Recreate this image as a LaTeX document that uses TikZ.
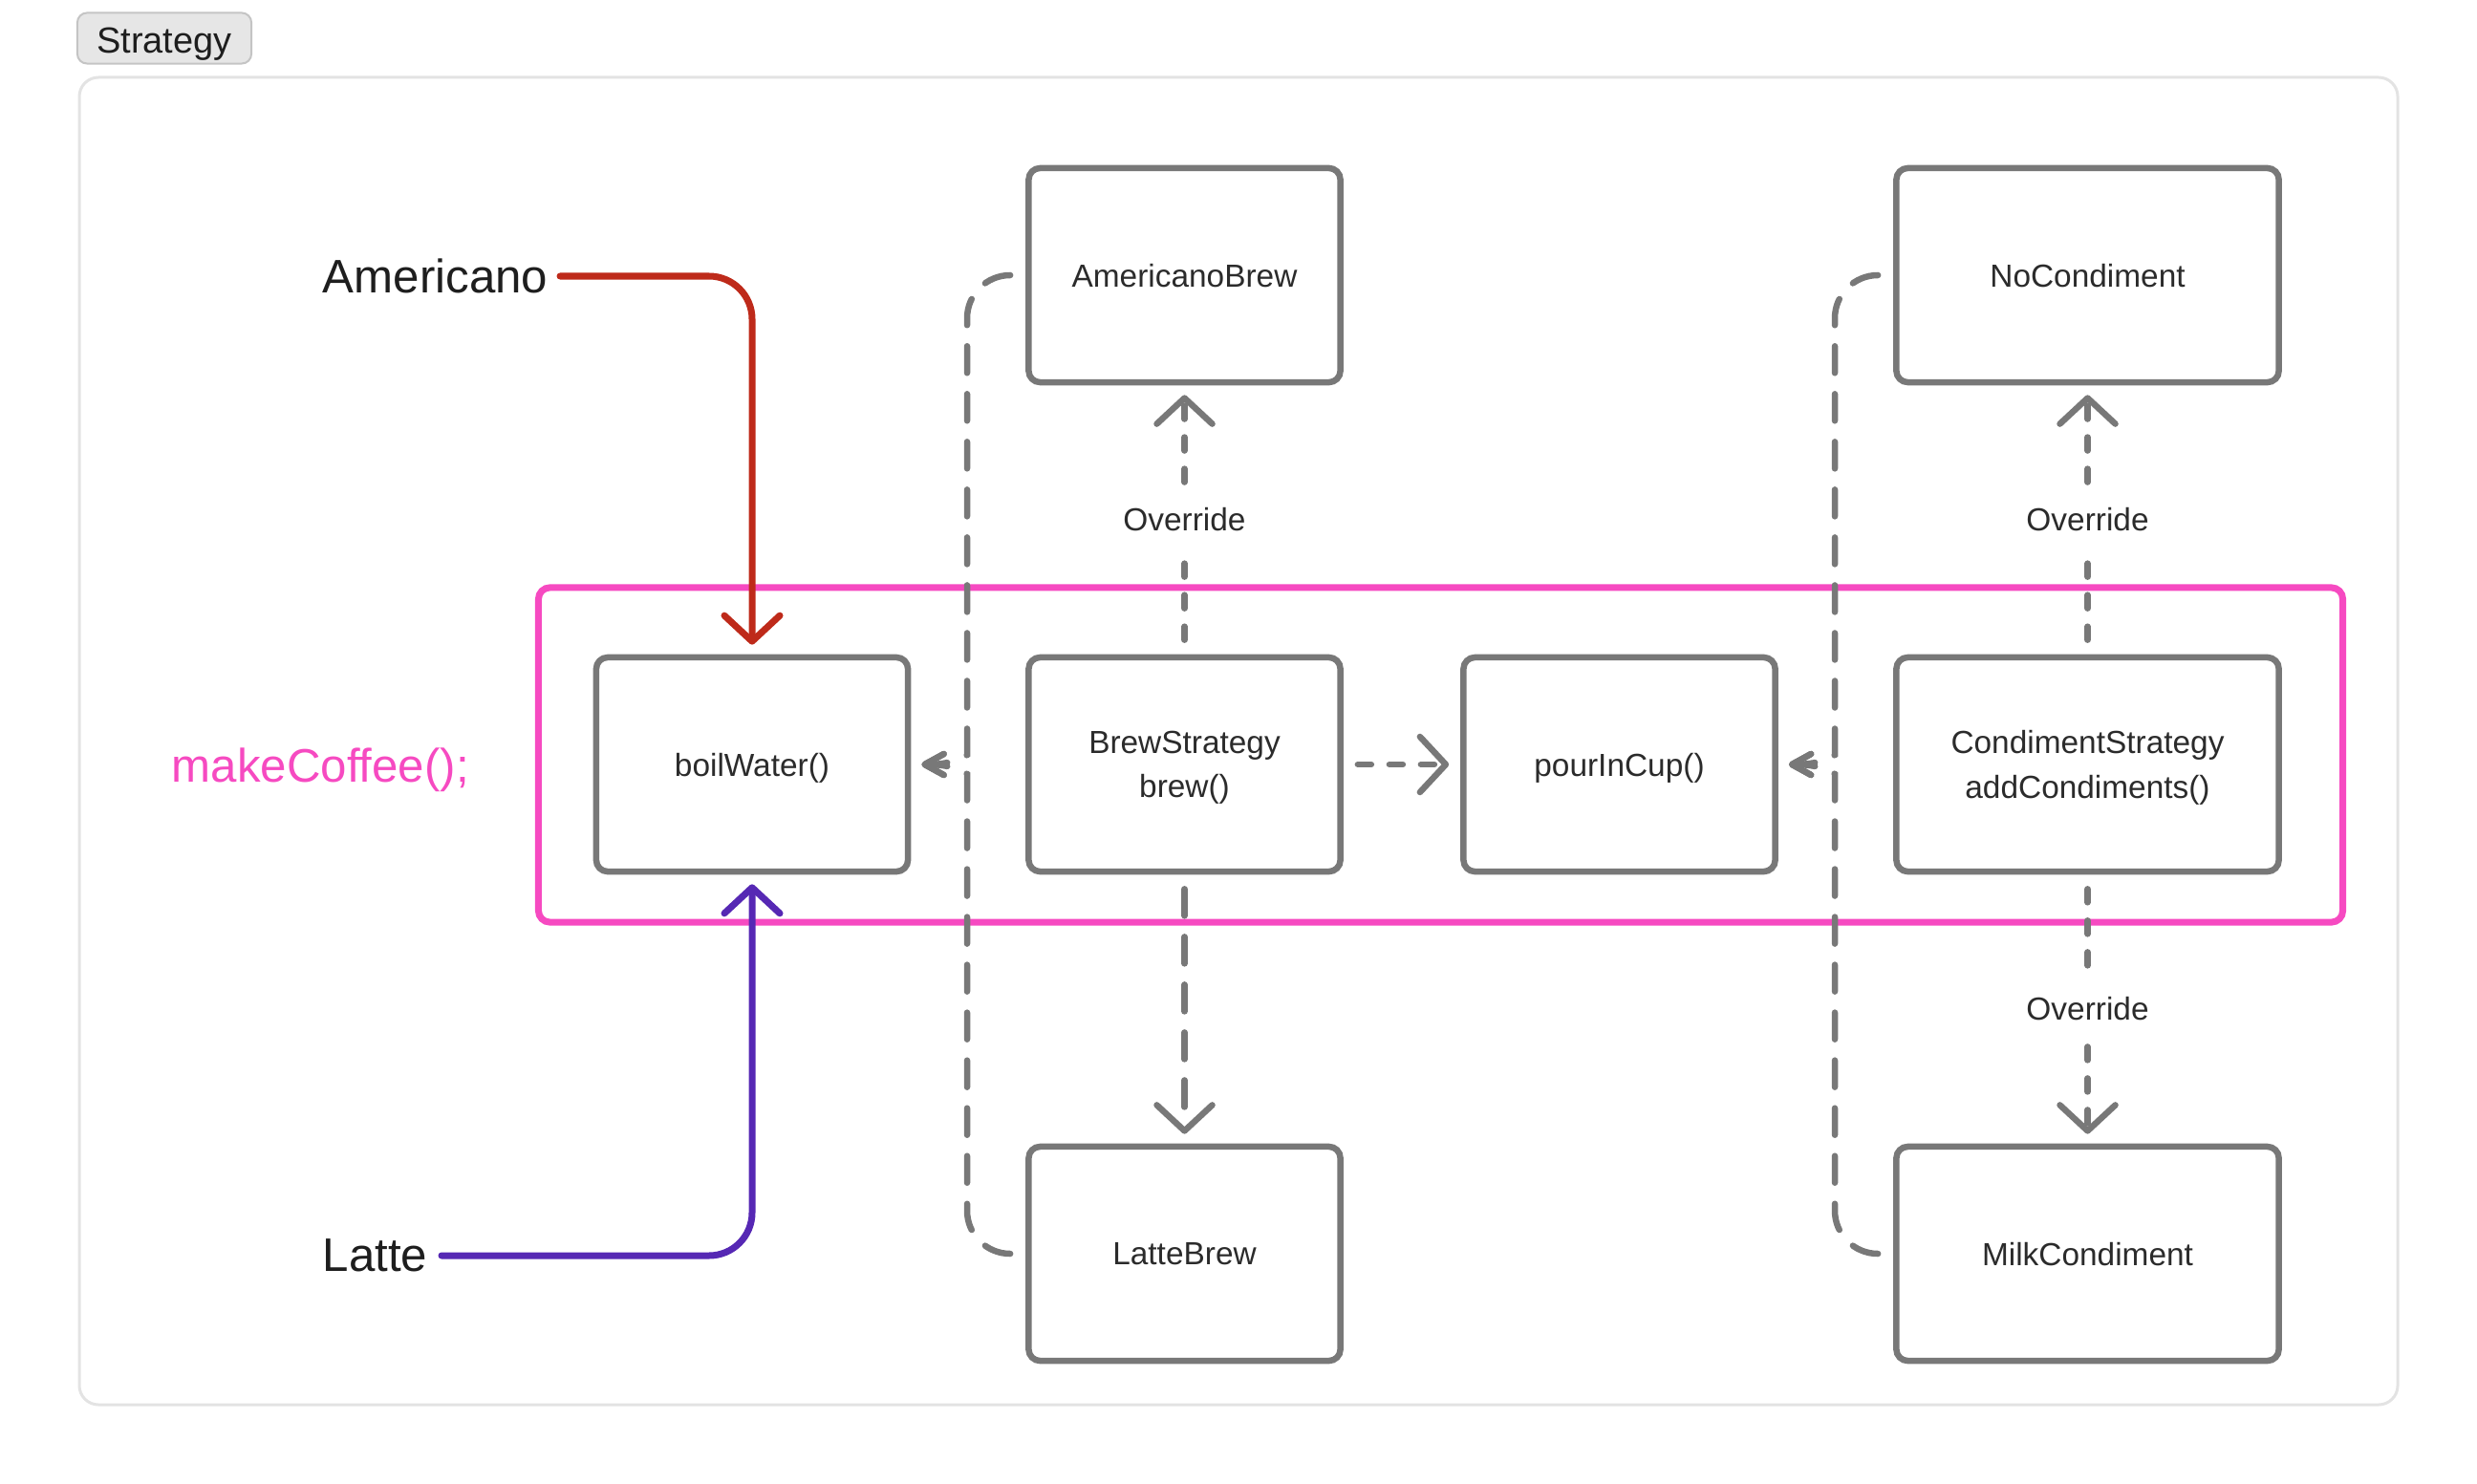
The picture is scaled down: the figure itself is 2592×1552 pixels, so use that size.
\documentclass[tikz,border=0pt]{standalone}
\usepackage{fontspec}
\setmainfont{Liberation Sans}
\usetikzlibrary{arrows.meta}
\definecolor{boxgray}{HTML}{787878}
\definecolor{textdark}{HTML}{2B2B2B}
\definecolor{labeldark}{HTML}{1E1E1E}
\definecolor{pinkc}{HTML}{F64AC1}
\definecolor{redc}{HTML}{BE2A1A}
\definecolor{purplec}{HTML}{5628B4}
\definecolor{panelc}{HTML}{E3E3E3}
\definecolor{tabfill}{HTML}{E6E6E6}
\definecolor{tabdraw}{HTML}{C4C4C4}
\begin{document}
\begin{tikzpicture}[x=0.01cm,y=-0.01cm,
  box/.style={draw=boxgray, line width=0.065cm, rounded corners=0.12cm, minimum height=2.24cm, align=center, text=textdark, font=\fontsize{9.5}{13.2}\selectfont, inner sep=0pt, text depth=0pt},
  narrowbox/.style={box, minimum width=3.26cm},
  widebox/.style={box, minimum width=4.0cm},
  lbl/.style={inner sep=0pt, text=labeldark, font=\fontsize{14}{16}\selectfont},
  ovl/.style={fill=white, inner xsep=0.08cm, inner ysep=0.2cm, text=textdark, font=\fontsize{9.5}{11}\selectfont},
  bigtip/.style={-{Straight Barb[length=0.27cm,width=0.58cm,round]}},
  smalltip/.style={-{Straight Barb[length=0.2cm,width=0.22cm,round]}},
  dshort/.style={draw=boxgray, line width=0.065cm, line cap=round, dash pattern=on 0.14cm off 0.19cm},
  dlong/.style={draw=boxgray, line width=0.065cm, line cap=round, dash pattern=on 0.28cm off 0.22cm},
  solidline/.style={line width=0.07cm, line cap=round, rounded corners=0.45cm}
]
\useasboundingbox (0,0) rectangle (2592,1552);
% panel and tab
\draw[draw=panelc, line width=0.03cm, rounded corners=0.2cm] (83,81) rectangle (2509,1470);
\node[draw=tabdraw, fill=tabfill, line width=0.02cm, rounded corners=0.1cm, minimum width=1.82cm, minimum height=0.53cm, inner sep=0pt] (tab) at (172,40) {};
\node[inner sep=0pt, text=labeldark, font=\fontsize{10.8}{12}\selectfont, anchor=base] (tabtext) at (172,56) {Strategy};
% group box
\node[draw=pinkc, line width=0.07cm, rounded corners=0.12cm, minimum width=18.87cm, minimum height=3.5cm, inner sep=0pt] (grp) at (1507.5,790) {};
% boxes
\node[narrowbox] (amb) at (1239.5,288) {AmericanoBrew};
\node[widebox] (noc) at (2184.5,288) {NoCondiment};
\node[narrowbox] (boil) at (787,800) {boilWater()};
\node[narrowbox] (brew) at (1239.5,800) {BrewStrategy\\brew()};
\node[narrowbox] (pour) at (1694.5,800) {pourInCup()};
\node[widebox] (cond) at (2184.5,800) {CondimentStrategy\\addCondiments()};
\node[narrowbox] (latte) at (1239.5,1312) {LatteBrew};
\node[widebox] (milk) at (2184.5,1312) {MilkCondiment};
% labels
\node[lbl, anchor=east] (am) at (574,289) {Americano};
\node[lbl, anchor=east] (la) at (448,1314) {Latte};
\node[lbl, text=pinkc, anchor=west] (mc) at (179,806) {makeCoffee();};
% solid arrows
\draw[solidline, draw=redc, bigtip, shorten <=0.12cm, shorten >=0.1cm] (am.east) -| (boil.north);
\draw[solidline, draw=purplec, bigtip, shorten <=0.14cm, shorten >=0.1cm] (la.east) -| (boil.south);
% override arrows
\draw[dshort, bigtip, shorten <=0.15cm, shorten >=0.1cm] (brew.north) -- node[ovl] {Override} (amb.south);
\draw[dshort, bigtip, shorten <=0.15cm, shorten >=0.1cm] (cond.north) -- node[ovl] {Override} (noc.south);
\draw[dshort, bigtip, shorten <=0.15cm, shorten >=0.1cm] (cond.south) -- node[ovl] {Override} (milk.north);
\draw[dlong, bigtip, shorten <=0.15cm, shorten >=0.1cm] (brew.south) -- (latte.north);
\draw[dshort, bigtip, shorten <=0.15cm, shorten >=0.12cm] (brew.east) -- (pour.west);
% brackets
\coordinate (j1t) at (1012,745);
\coordinate (j1b) at (1012,855);
\coordinate (j2t) at (1920,745);
\coordinate (j2b) at (1920,855);
\draw[dlong, smalltip, rounded corners=0.45cm, shorten <=0.16cm, shorten >=0.11cm] (amb.west) -| (j1t) .. controls (1012,790) and (1000,800) .. (boil.east);
\draw[dlong, smalltip, rounded corners=0.45cm, shorten <=0.16cm, shorten >=0.11cm] (latte.west) -| (j1b) .. controls (1012,810) and (1000,800) .. (boil.east);
\draw[dlong, smalltip, rounded corners=0.45cm, shorten <=0.16cm, shorten >=0.11cm] (noc.west) -| (j2t) .. controls (1920,790) and (1908,800) .. (pour.east);
\draw[dlong, smalltip, rounded corners=0.45cm, shorten <=0.16cm, shorten >=0.11cm] (milk.west) -| (j2b) .. controls (1920,810) and (1908,800) .. (pour.east);
\end{tikzpicture}
\end{document}
